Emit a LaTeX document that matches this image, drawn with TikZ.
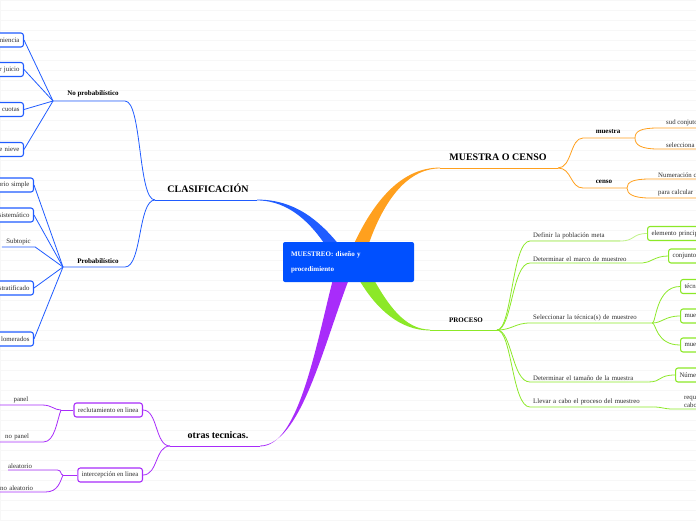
\documentclass[tikz,border=0pt]{standalone}
\usepackage{fontspec}
\setmainfont{Liberation Serif}
\usepackage{tikz}
\definecolor{mmblue}{RGB}{32,92,255}
\definecolor{mmorange}{RGB}{255,160,30}
\definecolor{mmgreen}{RGB}{140,232,40}
\definecolor{mmpurple}{RGB}{168,44,250}
\definecolor{mmroot}{RGB}{0,80,255}
\definecolor{mmtext}{RGB}{45,45,45}

\begin{document}
\begin{tikzpicture}[x=1pt,y=-1pt,
  topic/.style={font=\bfseries\fontsize{10}{11}\selectfont, text=black},
  sub/.style={font=\bfseries\fontsize{7}{8}\selectfont, text=black},
  leaf/.style={font=\fontsize{6.8}{8}\selectfont, text=mmtext},
  leafbox/.style={leaf, draw=#1, fill=white, rounded corners=2.5pt, line width=1.1pt, minimum height=14pt, inner xsep=4pt, inner ysep=0pt},
  ul/.style={leaf, inner ysep=1.5pt},
  ln/.style={line width=0.8pt}]
      \useasboundingbox (0,0) rectangle (696,520);
      \clip (0,0) rectangle (696,520);
      \draw [black!3, xstep=1000pt, ystep=10pt] (0,0) grid (696,520);

      % main branches
      \coordinate (clas-hub) at (155,200);
      \coordinate (clas-end) at (257,200);
      \coordinate (mc-end) at (440,168);
      \coordinate (mc-hub) at (558,168);
      \coordinate (proc-end) at (430,330);
      \coordinate (proc-hub) at (497,330);
      \coordinate (ot-end) at (260,446);
      \coordinate (ot-hub) at (170,446);
      \fill [mmblue] (257,199.6) .. controls (295,199.5) and (320,221) .. (340,246) -- (326,246) .. controls (312,225) and (290,200.5) .. (257,200.4) -- cycle;
      \fill [mmorange] (440,167.6) .. controls (402,167.5) and (374,200) .. (353,246) -- (368,246) .. controls (382,205) and (405,168.5) .. (440,168.4) -- cycle;
      \fill [mmgreen] (358,278) .. controls (376,309) and (400,330.5) .. (430,330.4) -- (430,329.6) .. controls (405,329.5) and (388,305) .. (373,278) -- cycle;
      \fill [mmpurple] (260,445.6) .. controls (300,445) and (322,350) .. (349,279) -- (333,279) .. controls (315,350) and (298,446.5) .. (260,446.4) -- cycle;
      \draw [mmblue, ln] (clas-hub) -- (clas-end);
      \draw [mmorange, ln] (mc-end) -- (mc-hub);
      \draw [mmgreen, ln] (proc-end) -- (proc-hub);
      \draw [mmpurple, ln] (ot-hub) -- (ot-end);

      \node [fill=mmroot, rounded corners=2pt, minimum width=131pt, minimum height=40pt, text width=115pt, align=left, text=white, font=\bfseries\fontsize{7}{15}\selectfont] (root) at (348.5,262) {MUESTREO: diseño y\\procedimiento};

      \node [topic] (clas) at (208,188) {CLASIFICACIÓN};
      \node [topic] (mc) at (498,157) {MUESTRA O CENSO};
      \node [topic] (ot) at (218,435) {otras tecnicas.};
      \node [sub] (proc) at (466,320) {PROCESO};

      % clasificacion
      \coordinate (np-in) at (125,101);
      \coordinate (np-hub) at (53,101);
      \coordinate (pb-in) at (125,267);
      \coordinate (pb-hub) at (63,267);
      \draw [mmblue, ln] (clas-hub) .. controls (138,200) and (142,101) .. (np-in) -- (np-hub);
      \draw [mmblue, ln] (clas-hub) .. controls (138,200) and (142,267) .. (pb-in) -- (pb-hub);
      \node [sub] (nprob) at (93,94) {No probabilístico};
      \node [sub] (prob) at (98,261) {Probabilístico};

      \node [leafbox=mmblue, anchor=east, text width=45pt, align=right] (np1) at (24,40) {niencia};
      \node [leafbox=mmblue, anchor=east, text width=45pt, align=right] (np2) at (24,69.5) {r juicio};
      \node [leafbox=mmblue, anchor=east, text width=45pt, align=right] (np3) at (24,109.5) {r cuotas};
      \node [leafbox=mmblue, anchor=east, text width=45pt, align=right] (np4) at (24,149.5) {e nieve};
      \draw [mmblue, ln] (np1.east) -- (np-hub);
      \draw [mmblue, ln] (np2.east) -- (np-hub);
      \draw [mmblue, ln] (np3.east) -- (np-hub);
      \draw [mmblue, ln] (np4.east) -- (np-hub);

      \node [leafbox=mmblue, anchor=east, text width=45pt, align=right] (pb1) at (34,185) {orio simple};
      \node [leafbox=mmblue, anchor=east, text width=45pt, align=right] (pb2) at (34,215) {sistemático};
      \node [ul, anchor=south, minimum width=33pt] (pb3) at (18.5,247) {Subtopic};
      \node [leafbox=mmblue, anchor=east, text width=45pt, align=right] (pb4) at (34,288) {stratificado};
      \node [leafbox=mmblue, anchor=east, text width=45pt, align=right] (pb5) at (34,339) {lomerados};
      \draw [mmblue, ln] (pb1.east) -- (pb-hub);
      \draw [mmblue, ln] (pb2.east) -- (pb-hub);
      \draw [mmblue, ln] (pb3.south west) -- (pb3.south east) -- (pb-hub);
      \draw [mmblue, ln] (pb4.east) -- (pb-hub);
      \draw [mmblue, ln] (pb5.east) -- (pb-hub);

      % otras tecnicas
      \node [leafbox=mmpurple, anchor=east] (rec) at (143,410) {reclutamiento en linea};
      \node [leafbox=mmpurple, anchor=east] (int) at (143,475) {intercepción en linea};
      \draw [mmpurple, ln] (ot-hub) .. controls (155,446) and (158,410) .. (rec.east);
      \draw [mmpurple, ln] (ot-hub) .. controls (155,446) and (158,475) .. (int.east);
      \coordinate (rec-hub) at (61,410);
      \coordinate (int-hub) at (63,475);
      \draw [mmpurple, ln] (rec.west) -- (rec-hub);
      \draw [mmpurple, ln] (int.west) -- (int-hub);
      \node [ul, anchor=south, minimum width=42pt] (pan) at (21,405) {panel};
      \node [ul, anchor=south west, inner xsep=5pt, text width=33pt, align=left] (npan) at (0,442) {no panel};
      \node [ul, anchor=south west, inner xsep=0pt, text width=49pt, align=left] (ale) at (8,470) {aleatorio};
      \node [ul, anchor=south west, inner xsep=0pt, text width=45pt, align=left] (nale) at (0,492) {no aleatorio};
      \draw [mmpurple, ln] (rec-hub) .. controls (54,410) and (52,405) .. (pan.south east) -- (pan.south west);
      \draw [mmpurple, ln] (rec-hub) .. controls (57,420) and (55,442) .. (npan.south east) -- (npan.south west);
      \draw [mmpurple, ln] (int-hub) .. controls (60,475) and (62,470) .. (ale.south east) -- (ale.south west);
      \draw [mmpurple, ln] (int-hub) .. controls (60,482) and (58,492) .. (nale.south east) -- (nale.south west);

      % muestra o censo
      \coordinate (mu-in) at (583,138);
      \coordinate (mu-hub) at (635,138);
      \coordinate (ce-in) at (583,188);
      \coordinate (ce-hub) at (627,188);
      \draw [mmorange, ln] (mc-hub) .. controls (572,168) and (570,138) .. (mu-in) -- (mu-hub);
      \draw [mmorange, ln] (mc-hub) .. controls (572,168) and (570,188) .. (ce-in) -- (ce-hub);
      \node [sub] (mu) at (608,132) {muestra};
      \node [sub] (ce) at (604,182) {censo};
      \node [ul, anchor=south west, inner xsep=8pt] (mu1) at (658,128) {sud conjuto};
      \node [ul, anchor=south west, inner xsep=8pt] (mu2) at (658,149) {selecciona};
      \node [ul, anchor=south west, inner xsep=8pt] (ce1) at (650,179) {Numeración c};
      \node [ul, anchor=south west, inner xsep=8pt] (ce2) at (650,198) {para calcular};
      \draw [mmorange, ln] (mu-hub) .. controls (635,131) and (641,128) .. (mu1.south west) -- (mu1.south east);
      \draw [mmorange, ln] (mu-hub) .. controls (635,145) and (641,149) .. (mu2.south west) -- (mu2.south east);
      \draw [mmorange, ln] (ce-hub) .. controls (627,182) and (633,179) .. (ce1.south west) -- (ce1.south east);
      \draw [mmorange, ln] (ce-hub) .. controls (627,194) and (633,198) .. (ce2.south west) -- (ce2.south east);

      % proceso
      \node [ul, anchor=south west, inner xsep=3pt, text width=84pt, align=left] (p1) at (530,241) {Definir la población meta};
      \node [ul, anchor=south west, inner xsep=3pt, text width=106pt, align=left] (p2) at (530,263) {Determinar el marco de muestreo};
      \node [ul, anchor=south west, inner xsep=3pt, text width=116pt, align=left] (p3) at (530,323) {Seleccionar la técnica(s) de muestreo};
      \node [ul, anchor=south west, inner xsep=3pt, text width=112pt, align=left] (p4) at (530,382) {Determinar el tamaño de la muestra};
      \node [ul, anchor=south west, inner xsep=3pt, text width=117pt, align=left] (p5) at (530,407) {Llevar a cabo el proceso del muestreo};
      \draw [mmgreen, ln] (proc-hub) .. controls (512,330) and (512,241) .. (p1.south west) -- (p1.south east);
      \draw [mmgreen, ln] (proc-hub) .. controls (512,330) and (512,263) .. (p2.south west) -- (p2.south east);
      \draw [mmgreen, ln] (proc-hub) .. controls (512,330) and (515,323) .. (p3.south west) -- (p3.south east);
      \draw [mmgreen, ln] (proc-hub) .. controls (512,330) and (512,382) .. (p4.south west) -- (p4.south east);
      \draw [mmgreen, ln] (proc-hub) .. controls (512,330) and (512,407) .. (p5.south west) -- (p5.south east);

      \node [leafbox=mmgreen, anchor=west, text width=60pt, align=left] (e1) at (647,233.5) {elemento princip};
      \node [leafbox=mmgreen, anchor=west, text width=40pt, align=left] (e2) at (668,256) {conjunto};
      \node [leafbox=mmgreen, anchor=west, text width=30pt, align=left] (e3) at (680,286.5) {técni};
      \node [leafbox=mmgreen, anchor=west, text width=30pt, align=left] (e4) at (680,316) {mue};
      \node [leafbox=mmgreen, anchor=west, text width=30pt, align=left] (e5) at (680,345) {mue};
      \node [leafbox=mmgreen, anchor=west, text width=30pt, align=left] (e6) at (675,375) {Núme};
      \node [ul, anchor=south west, inner xsep=11pt, align=left, font=\fontsize{6.8}{8}\selectfont] (e7) at (673,409) {requ\\cabo};
      \draw [mmgreen!55, ln] (p1.south east) .. controls (635,241) and (632,233.5) .. (e1.west);
      \draw [mmgreen, ln] (p2.south east) .. controls (650,263) and (655,256) .. (e2.west);
      \draw [mmgreen, ln] (p3.south east) .. controls (656,323) and (656,286.5) .. (e3.west);
      \draw [mmgreen, ln] (p3.south east) .. controls (662,323) and (665,316) .. (e4.west);
      \draw [mmgreen, ln] (p3.south east) .. controls (656,323) and (656,345) .. (e5.west);
      \draw [mmgreen, ln] (p4.south east) .. controls (662,382) and (658,375) .. (e6.west);
      \draw [mmgreen, ln] (p5.south east) .. controls (663,407) and (663,409) .. (e7.south west) -- (e7.south east);
\end{tikzpicture}
\end{document}
